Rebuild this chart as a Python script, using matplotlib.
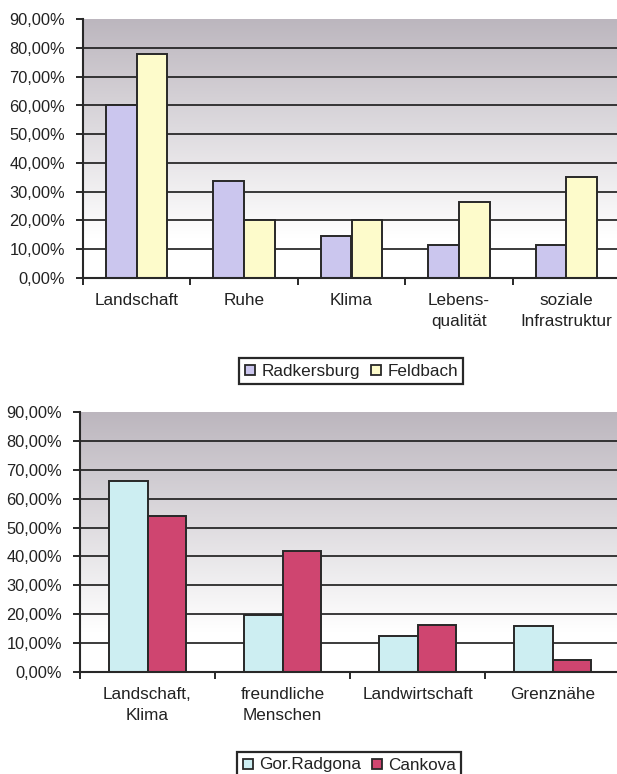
import numpy as np
import matplotlib
matplotlib.use("Agg")
import matplotlib.pyplot as plt
from matplotlib.lines import Line2D
from matplotlib.ticker import FuncFormatter

plt.rcParams['font.family'] = ['Liberation Sans', 'DejaVu Sans']

# Gründe für die Wohnortwahl (Anteil der Nennungen in %)
cats_top = ['Landschaft', 'Ruhe', 'Klima', 'Lebens-\nqualität', 'soziale\nInfrastruktur']
radkersburg = [60.0, 33.7, 14.6, 11.3, 11.3]
feldbach = [78.0, 20.0, 20.0, 26.4, 35.0]

cats_bottom = ['Landschaft,\nKlima', 'freundliche\nMenschen', 'Landwirtschaft', 'Grenznähe']
gor_radgona = [66.2, 19.6, 12.5, 16.0]
cankova = [54.0, 41.8, 16.4, 4.0]

yticks = [0, 10, 20, 30, 40, 50, 60, 70, 80, 90]

TXT = '#222222'
EDGE = '#282828'


def gradient(ax, n):
    # grauer Verlauf oben, nach unten weiß
    y = np.linspace(90, 0, 300)
    t = np.clip((y - 14) / (90 - 14), 0, 1)[:, None]
    top = np.array([188, 182, 190]) / 255
    img = (1 - t) * 1.0 + t * top
    ax.imshow(img[:, None, :], extent=(-0.5, n - 0.5, 0, 90), aspect='auto',
              origin='upper', zorder=0, interpolation='bilinear')


def chart(ax, cats, s1, s2, c1, c2):
    n = len(cats)
    x = np.arange(n)
    w = 1 / 3.5
    gradient(ax, n)
    ax.bar(x - w / 2, s1, w, color=c1, edgecolor=EDGE, linewidth=1.4, zorder=2)
    ax.bar(x + w / 2, s2, w, color=c2, edgecolor=EDGE, linewidth=1.4, zorder=2)
    ax.set_xlim(-0.5, n - 0.5)
    ax.set_ylim(0, 90)
    ax.set_yticks(yticks)
    ax.yaxis.set_major_formatter(FuncFormatter(lambda v, p: f'{v:.2f}%'.replace('.', ',')))
    ax.grid(axis='y', color='#1a1a1a', linewidth=1.2, zorder=1)
    ax.get_ygridlines()[-1].set_visible(False)
    ax.set_axisbelow(True)
    ax.set_xticks(x)
    ax.set_xticklabels(cats, linespacing=1.5)
    ax.set_xticks(np.arange(n + 1) - 0.5, minor=True)
    ax.tick_params(axis='x', which='major', length=0, pad=11, labelsize=12.3, labelcolor=TXT)
    ax.tick_params(axis='x', which='minor', length=5, width=1.4, color=EDGE, direction='out')
    ax.tick_params(axis='y', length=5, width=1.4, color=EDGE, pad=8, labelsize=11.8, labelcolor=TXT)
    for side in ['top', 'right']:
        ax.spines[side].set_visible(False)
    for side in ['left', 'bottom']:
        ax.spines[side].set_color(EDGE)
        ax.spines[side].set_linewidth(1.5)


def legend(fig, labels, colors, cx, cy):
    handles = [Line2D([], [], linestyle='none', marker='s', markersize=6.5,
                      markerfacecolor=c, markeredgecolor=EDGE, markeredgewidth=1.3)
               for c in colors]
    leg = fig.legend(handles, labels, loc='center', bbox_to_anchor=(cx, cy), ncol=2,
                     frameon=True, fancybox=False, framealpha=1, edgecolor=EDGE,
                     handlelength=0.7, handletextpad=0.3, columnspacing=0.6,
                     borderpad=0.3, prop={'size': 12.3})
    leg.get_frame().set_linewidth(1.6)
    for t in leg.get_texts():
        t.set_color(TXT)


W, H = 617, 774
fig = plt.figure(figsize=(W / 100, H / 100), dpi=100)

ax1 = fig.add_axes([83 / W, 1 - 277.7 / H, 537 / W, 258.3 / H])
chart(ax1, cats_top, radkersburg, feldbach, '#cbc6ee', '#fdfbcb')
legend(fig, ['Radkersburg', 'Feldbach'], ['#cbc6ee', '#fdfbcb'], 351 / W, 1 - 371 / H)

ax2 = fig.add_axes([80 / W, 1 - 672 / H, 540 / W, 260 / H])
chart(ax2, cats_bottom, gor_radgona, cankova, '#cdeef2', '#cf4570')
legend(fig, ['Gor.Radgona', 'Cankova'], ['#cdeef2', '#cf4570'], 349 / W, 1 - 765 / H)

fig.savefig('out.png', dpi=100)
